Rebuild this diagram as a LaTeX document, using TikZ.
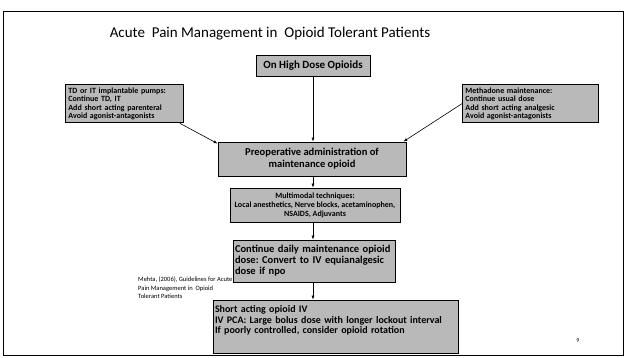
\documentclass[tikz,border=0pt]{standalone}
\usepackage{fontspec}
\setmainfont{Carlito}
\setsansfont{Carlito}
\usetikzlibrary{arrows.meta}
\frenchspacing

\begin{document}
\begin{tikzpicture}[x=1pt, y=-1pt, font=\sffamily,
		stepbox/.style={draw=black, fill=gray!55, line width=0.8pt, inner sep=2pt, font=\sffamily\bfseries\fontsize{10}{10.5}\selectfont},
		sidebox/.style={draw=black, fill=gray!55, line width=0.8pt, inner sep=3pt, align=left, font=\sffamily\bfseries\fontsize{8}{8.5}\selectfont},
		flow/.style={-{Latex[length=4pt, width=3pt]}, line width=0.6pt}]
	\useasboundingbox (0,0) rectangle (626,358);
	\draw[line width=0.6pt] (3,11) rectangle (623,355);
	\node (title) at (270,34) {\fontsize{15}{17}\selectfont Acute\ \ Pain Management in\ \ Opioid Tolerant Patients};
	\node[stepbox, minimum width=114, minimum height=21, font=\sffamily\bfseries\fontsize{11}{12}\selectfont] (high) at (313,65.5) {On High Dose Opioids};
	\node[stepbox, minimum width=188, minimum height=34, align=center, font=\sffamily\bfseries\fontsize{10.5}{12}\selectfont] (preop) at (312,159) {Preoperative administration of\\maintenance opioid};
	\node[stepbox, minimum width=170, minimum height=34, align=center, font=\sffamily\bfseries\fontsize{8}{9}\selectfont] (multi) at (315,205) {Multimodal techniques:\\Local anesthetics, Nerve blocks, acetaminophen,\\NSAIDS, Adjuvants};
	\node[stepbox, text width=158, minimum height=42, align=left, font=\sffamily\bfseries\fontsize{10.5}{11}\selectfont] (daily) at (314,261) {Continue daily maintenance opioid\\dose: Convert to IV equianalgesic\\dose if npo};
	\node[stepbox, text width=241, minimum height=53, align=left] (short) at (335.5,326.5) {Short acting opioid IV\\IV PCA: Large bolus dose with longer lockout interval\\If poorly controlled, consider opioid rotation\\[3pt]\mbox{}};
	\node[sidebox, text width=112, minimum height=37, anchor=north west] (pumps) at (65,84) {TD or IT implantable pumps:\\Continue TD, IT\\Add short acting parenteral\\Avoid agonist-antagonists};
	\node[sidebox, text width=130, minimum height=36, anchor=north west] (metha) at (462,84) {Methadone maintenance:\\Continue usual dose\\Add short acting analgesic\\Avoid agonist-antagonists};
	\node[align=left, anchor=north west, inner sep=0pt, font=\sffamily\fontsize{6.5}{8.5}\selectfont] (cite) at (138,277) {Mehta, (2006), Guidelines for Acute\\Pain Management in\ \ Opioid\\Tolerant Patients};
	\node[font=\sffamily\fontsize{6}{7}\selectfont] (page) at (578,341) {9};
	% flow of the steps
	\draw[flow] (high) -- (high |- preop.north);
	\draw[flow] (high |- preop.south) -- (high |- multi.north);
	\draw[flow] (high |- multi.south) -- (high |- daily.north);
	\draw[flow] (high |- daily.south) -- (high |- short.north);
	\draw[flow] ([xshift=-4pt]pumps.south east) -- ([yshift=-2pt]preop.north west);
	\draw[flow] (metha.west) -- ([xshift=-3pt]preop.north east);
\end{tikzpicture}
\end{document}
